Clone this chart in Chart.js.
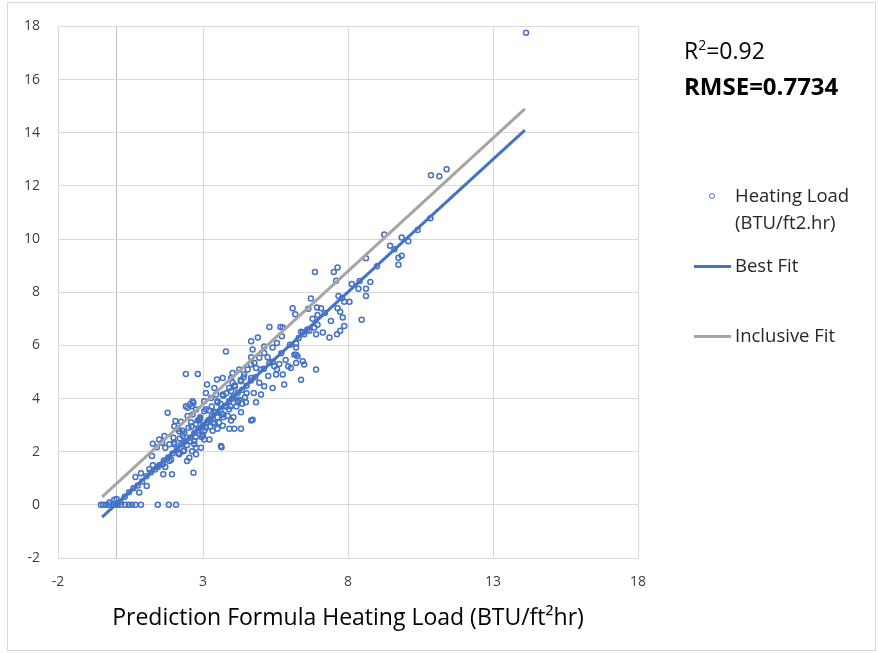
<!DOCTYPE html>
<html lang="en">
<head>
<meta charset="UTF-8">
<title>Heating Load Prediction</title>
<script src="https://cdn.jsdelivr.net/npm/chart.js"></script>
<style>
  body { margin: 0; background: #fff; font-family: "Open Sans", sans-serif; }
  #wrap { position: relative; width: 878px; height: 653px; overflow: hidden; }
  #frame { position: absolute; left: 7px; top: 2px; width: 869px; height: 649px; border: 1px solid #d9d9d9; box-sizing: border-box; }
  canvas { position: absolute; left: 0; top: 0; }
  .note { position: absolute; left: 684px; color: #000; font-size: 23px; line-height: 1; white-space: nowrap; }
  .note sup { font-size: 14px; vertical-align: 9px; line-height: 0; }
  .leg { position: absolute; left: 735px; color: #262626; font-size: 18.5px; line-height: 27px; white-space: nowrap; }
  .swatch { position: absolute; left: 694px; width: 37px; height: 3px; }
  .dot { position: absolute; left: 709px; top: 193px; width: 4px; height: 4px; border: 1px solid #4472c4; border-radius: 50%; }
</style>
</head>
<body>
<div id="wrap">
  <div id="frame"></div>
  <canvas id="fitChart" width="878" height="653"></canvas>

  <div class="note" style="top:39px;">R<sup>2</sup>=0.92</div>
  <div class="note" style="top:74px; font-weight:bold; font-size:24px;">RMSE=0.7734</div>

  <div class="dot"></div>
  <div class="leg" style="top:181px;">Heating Load<br>(BTU/ft2.hr)</div>
  <div class="swatch" style="top:265px; background:#4472c4;"></div>
  <div class="leg" style="top:251px;">Best Fit</div>
  <div class="swatch" style="top:335px; background:#a5a5a5;"></div>
  <div class="leg" style="top:321px;">Inclusive Fit</div>
</div>

<script>
  // axis ticks
  const xTicks = [-2, 0, 3, 8, 13, 18];
  const yMin = -2, yMax = 18, yStep = 2;

  const predX = [
    -0.52, -0.44, -0.34, -0.23, -0.11, -0.02, 0.06, 0.17, 0.32, 0.44, 0.55, 0.67, 0.86, 1.44, 1.82, 2.07,
    -0.06, -0.23, 0.02,
    0.80, 1.06, 0.67, 0.86, 1.15, 1.27, 1.44, 1.61, 1.70, 1.63, 1.93, 2.67, 1.24, 1.27, 1.41, 1.49, 1.59,
    1.78, 1.70, 1.84, 2.01, 1.98, 2.05, 2.01, 2.24, 2.18, 2.36, 2.41, 2.62, 2.67, 2.47, 2.64, 2.45, 2.53,
    1.84, 2.18, 2.32, 2.62, 2.76, 2.93, 2.76, 2.99, 2.87, 2.76,
    2.41, 2.82, 3.79, 4.66, 4.71, 4.66, 4.89, 4.66, 3.68, 3.48, 3.14, 3.39, 3.10, 3.97, 4.02, 4.31, 4.42,
    4.25, 4.02, 4.54, 4.66, 3.97, 3.68, 3.45, 3.28, 3.04, 2.64, 2.56, 2.76, 2.47, 3.04, 4.48, 4.20, 4.83,
    5.00, 4.31, 3.97, 4.08, 3.91, 4.31, 3.68, 3.50, 3.33, 4.66, 3.62, 3.04, 3.22, 2.13, 2.30, 1.67, 2.70,
    2.59, 2.82, 2.82, 4.71, 3.64, 4.75,
    6.86, 6.72, 6.09, 6.18, 6.63, 6.93, 6.78, 5.29, 5.67, 5.72, 5.55, 5.40, 5.11, 5.11, 5.23, 4.94, 5.29,
    5.46, 4.77, 4.83, 5.00, 5.63, 5.94, 6.03, 6.21, 6.15, 6.26, 6.44, 6.49, 6.90, 6.38, 6.49, 6.90, 6.95,
    5.52, 5.75, 6.38, 5.40, 5.80, 4.94, 5.11,
    9.25, 9.45, 9.74, 9.74, 8.62, 7.51, 7.64, 7.59, 8.13, 8.36, 8.62, 8.77, 8.62, 7.67, 7.87, 8.05, 7.07,
    7.64, 7.73, 6.95, 7.82, 7.41, 8.47, 7.87, 7.73, 7.62, 7.36, 7.13, 6.84, 6.67, 5.75, 6.44, 6.21, 6.21, 6.21,
    10.86, 11.15, 11.40, 9.85, 10.08, 9.85, 10.84, 10.40, 14.14,
    0.30, 0.60, 0.90, 1.20, 1.50, 1.80, 2.10, 2.40, 2.70, 3.00, 3.30, 3.60, 3.90, 4.20, 4.50, 4.80, 5.10,
    5.40, 5.70, 6.00, 6.30, 6.60, 7.20, 7.80, 8.40, 9.00, 9.60,
    2.20, 2.50, 2.90, 3.10, 3.30, 3.50, 3.70, 3.90, 4.10, 4.30, 3.20, 3.40, 3.60, 3.80, 4.00, 3.10, 3.50,
    3.70, 3.90, 2.35, 2.55, 2.95, 3.25, 3.55, 3.85, 4.15, 4.45, 5.25, 5.55, 5.85, 4.05, 4.35,
    0.15, 0.45, 0.75, 1.05, 1.35, 1.65, 1.95, 2.25, 2.55, 2.85, 3.15, 3.45, 3.75, 4.05, 4.35, 4.65,
    2.00, 2.30, 2.60, 2.90, 3.20, 3.50, 3.80, 4.10, 4.40, 2.15, 2.45, 2.75, 3.05, 3.35, 3.65, 3.95, 4.25,
    1.90, 2.70, 3.00, 3.40, 3.70, 4.20, 4.50
  ];
  const actualY = [
    0, 0, 0, 0, 0, 0, 0, 0, 0, 0, 0, 0, 0, 0, 0, 0,
    0.19, 0.09, 0.22,
    0.46, 0.71, 1.05, 1.19, 1.34, 1.49, 1.42, 1.53, 1.42, 1.15, 1.15, 1.21, 1.84, 2.30, 2.17, 2.46, 2.34,
    3.46, 2.15, 2.28, 2.28, 2.52, 3.15, 2.96, 3.13, 2.77, 2.69, 3.71, 3.71, 3.84, 3.34, 3.40, 1.65, 1.77,
    1.65, 1.90, 2.02, 2.02, 2.15, 2.15, 1.90, 2.65, 3.21, 3.03,
    4.92, 4.92, 5.77, 6.15, 5.84, 5.55, 6.30, 5.28, 4.77, 4.72, 4.53, 4.40, 4.21, 4.77, 4.59, 4.65, 4.90,
    5.09, 4.96, 5.09, 4.77, 4.28, 4.15, 4.15, 4.02, 3.90, 3.90, 3.78, 3.59, 3.65, 3.52, 3.86, 3.86, 3.86,
    4.15, 3.48, 3.17, 2.86, 2.86, 2.86, 2.98, 2.86, 2.79, 3.17, 2.21, 2.46, 2.46, 2.86, 2.79, 2.59, 2.28,
    3.11, 3.17, 2.79, 3.20, 2.17, 4.21,
    8.76, 7.76, 7.40, 7.17, 7.38, 7.42, 7.00, 6.69, 6.69, 6.34, 6.09, 5.92, 5.96, 5.71, 5.55, 5.53, 5.34,
    5.21, 5.34, 5.15, 5.09, 5.30, 5.21, 5.15, 5.34, 5.65, 5.59, 5.40, 5.28, 5.09, 6.51, 6.42, 6.42, 6.78,
    4.90, 4.90, 4.71, 4.40, 4.53, 4.59, 4.46,
    10.17, 9.75, 9.30, 9.03, 9.28, 8.76, 8.93, 8.43, 8.31, 8.13, 8.13, 8.38, 7.86, 7.86, 7.64, 7.64, 7.40,
    7.40, 7.26, 7.14, 7.05, 6.92, 6.96, 6.73, 6.55, 6.42, 6.30, 6.48, 6.67, 6.55, 6.67, 6.48, 6.07, 5.92, 5.65,
    12.40, 12.36, 12.63, 10.06, 9.92, 9.37, 10.78, 10.34, 17.76,
    0.30, 0.62, 0.88, 1.22, 1.50, 1.78, 2.12, 2.38, 2.70, 3.00, 3.32, 3.58, 3.90, 4.22, 4.48, 4.80, 5.12,
    5.38, 5.70, 6.02, 6.28, 6.60, 7.22, 7.78, 8.42, 8.98, 9.62,
    2.50, 2.90, 3.30, 3.60, 3.70, 3.90, 4.10, 4.40, 4.50, 4.70, 3.20, 3.50, 3.80, 3.70, 4.00, 2.90, 3.30,
    3.40, 3.60, 2.05, 2.40, 2.55, 2.95, 3.10, 3.35, 3.70, 4.05, 4.85, 5.10, 5.45, 3.30, 3.80,
    0.12, 0.47, 0.73, 1.08, 1.33, 1.67, 1.93, 2.28, 2.52, 2.88, 3.13, 3.48, 3.72, 4.08, 4.33, 4.68,
    2.35, 2.60, 2.95, 3.25, 3.55, 3.85, 4.20, 4.45, 4.80, 1.95, 2.25, 2.55, 2.80, 3.10, 3.40, 3.70, 3.95,
    1.70, 2.40, 2.60, 3.05, 3.30, 3.90, 4.20
  ];

  // fitted lines, end points
  const fitX = [-0.48, 14.1];
  const bestFitY = [-0.46, 14.1];
  const inclusiveFitY = [0.3, 14.9];

  const blue = "#4472c4";
  const gray = "#a5a5a5";
  const tickFont = { family: "Open Sans", size: 14 };

  const toPoints = (xs, ys) => xs.map((x, i) => ({ x: x, y: ys[i] }));

  new Chart(document.getElementById("fitChart"), {
    type: "scatter",
    data: {
      datasets: [
        {
          label: "Best Fit",
          data: toPoints(fitX, bestFitY),
          showLine: true,
          borderColor: blue,
          borderWidth: 3,
          pointRadius: 0,
          order: 0
        },
        {
          label: "Inclusive Fit",
          data: toPoints(fitX, inclusiveFitY),
          showLine: true,
          borderColor: gray,
          borderWidth: 3,
          pointRadius: 0,
          order: 1
        },
        {
          label: "Heating Load (BTU/ft2.hr)",
          data: toPoints(predX, actualY),
          pointRadius: 2.5,
          pointBorderWidth: 1.5,
          pointBorderColor: blue,
          pointBackgroundColor: "rgba(255,255,255,0)",
          order: 2
        }
      ]
    },
    options: {
      responsive: false,
      animation: false,
      layout: { padding: { left: 0, top: 24, right: 240, bottom: 0 } },
      plugins: { legend: { display: false }, tooltip: { enabled: false } },
      scales: {
        x: {
          type: "linear",
          min: -2,
          max: 18,
          afterBuildTicks: (scale) => { scale.ticks = xTicks.map(v => ({ value: v })); },
          afterFit: (scale) => { scale.height = 95; },
          ticks: {
            color: "#404040",
            font: tickFont,
            padding: 16,
            maxRotation: 0,
            callback: (v) => v === 0 ? "" : v
          },
          grid: {
            color: (ctx) => ctx.tick && ctx.tick.value === 0 ? "#bfbfbf" : "#d9d9d9",
            drawTicks: false
          },
          border: { display: false },
          title: {
            display: true,
            text: "Prediction Formula Heating Load (BTU/ft²hr)",
            color: "#000",
            font: { family: "Open Sans", size: 23 },
            padding: { top: 0, bottom: 21 }
          }
        },
        y: {
          min: yMin,
          max: yMax,
          afterFit: (scale) => { scale.width = 58; },
          ticks: {
            stepSize: yStep,
            color: "#404040",
            font: tickFont,
            padding: 18
          },
          grid: { color: "#d9d9d9", drawTicks: false },
          border: { display: false }
        }
      }
    }
  });
</script>
</body>
</html>
